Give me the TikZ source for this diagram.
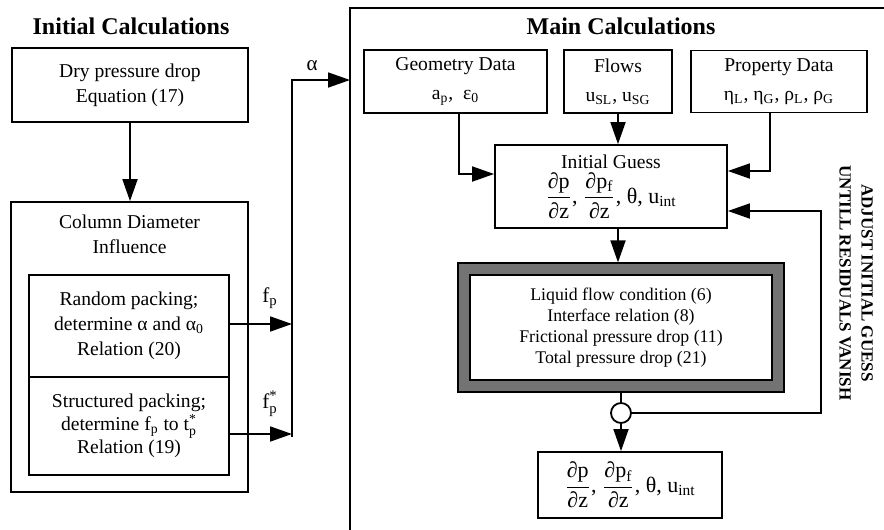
\documentclass[tikz,border=0pt]{standalone}
\usepackage{amsmath}
\usepackage{fontspec}
\setmainfont{Liberation Serif}
\usetikzlibrary{arrows.meta}

\newcommand{\pdfrac}[2]{$\dfrac{\text{#1}}{\text{#2}}$}
\newcommand{\pstar}[1]{#1$^{\text{*}}_{\text{p}}$}
\newcommand{\gradline}{{\fontsize{11}{13}\selectfont\pdfrac{∂p}{∂z}, \pdfrac{∂p\textsubscript{f}}{∂z}, θ, u\textsubscript{int}}}

\begin{document}
\begin{tikzpicture}[x=0.5pt, y=-0.5pt,
    box/.style={draw, line width=0.9pt, align=center, inner sep=0pt,
        font=\fontsize{9.8}{12.5}\selectfont},
    flow/.style={-{Triangle[length=11pt,width=7.5pt]}, line width=0.9pt},
    wire/.style={line width=0.9pt},
    title/.style={font=\fontsize{12}{14}\bfseries\selectfont},
    lbl/.style={font=\fontsize{10.5}{12}\selectfont},
]
\useasboundingbox (0,0) rectangle (884,530);

%% --- titles ---
\node[title] (ttlinit) at (131,26) {Initial Calculations};
\node[title] (ttlmain) at (621,26) {Main Calculations};

%% --- initial calculations ---
\node[box, minimum width=118pt, minimum height=37pt] (dry) at (130,85)
    {Dry pressure drop\\Equation (17)};
\node[box, minimum width=118.5pt, minimum height=145pt] (col) at (129.5,347) {};
\node[align=center, font=\fontsize{9.8}{12.5}\selectfont] (colttl) at (129.5,234)
    {Column Diameter\\Influence};
\node[box, minimum width=100pt, minimum height=51pt] (rnd) at (129,326)
    {Random packing;\\determine α and α\textsubscript{0}\\Relation (20)};
\node[box, minimum width=100pt, minimum height=49pt] (str) at (129,426)
    {Structured packing;\\[-1pt]determine f\textsubscript{p} to \pstar{t}\\[-1pt]Relation (19)};

\draw[flow] (dry.south) -- (dry.south |- col.north);

%% --- packing factors to main calculations ---
\coordinate (jrnd) at (292,324);
\coordinate (jstr) at (292,434);
\coordinate (jbot) at (292,437);
\coordinate (jtop) at (292,80);
\coordinate (jmain) at (350,80);
\draw[flow] (rnd.east |- jrnd) -- (jrnd);
\draw[flow] (str.east |- jstr) -- (jstr);
\draw[flow] (jbot) -- (jtop) -- (jmain);
\node[lbl] (fplab) at (270,298) {f\textsubscript{p}};
\node[lbl] (fslab) at (270,404) {\pstar{f}};
\node[lbl] (alab) at (312,66) {α};

%% --- main calculations frame (open to the right and below) ---
\draw[wire] (350,545) -- (350,8) -- (900,8);

%% --- input data ---
\node[box, minimum width=91.5pt, minimum height=31.5pt] (geom) at (455.5,81.5)
    {Geometry Data\\[2pt]a\textsubscript{p},\ \ ε\textsubscript{0}};
\node[box, minimum width=54pt, minimum height=31.5pt] (flows) at (618,81.5)
    {Flows\\[2pt]u\textsubscript{SL}, u\textsubscript{SG}};
\node[box, minimum width=88pt, minimum height=31pt] (prop) at (779,81.5)
    {Property Data\\[2pt]η\textsubscript{L}, η\textsubscript{G}, ρ\textsubscript{L}, ρ\textsubscript{G}};

%% --- initial guess ---
\node[box, minimum width=116pt, minimum height=41.5pt] (guess) at (611,186.5)
    {Initial Guess\\[1pt]\gradline};

\draw[flow] ([xshift=1.75pt]geom.south) |- ([yshift=6.25pt]guess.west);
\draw[flow] (flows.south) -- (flows.south |- guess.north);
\draw[flow] ([xshift=-4.5pt]prop.south) |- ([yshift=7.75pt]guess.east);

%% --- model equations (shaded frame) ---
\node[draw, line width=0.6pt, fill=black!55, minimum width=163pt,
    minimum height=64.5pt] (shade) at (621,327.5) {};
\node[box, line width=0.6pt, fill=white, minimum width=151pt, minimum height=52.5pt,
    font=\fontsize{8.9}{10.5}\selectfont] (model) at (621,327.5)
    {Liquid flow condition (6)\\Interface relation (8)\\Frictional pressure drop (11)\\Total pressure drop (21)};

\draw[flow] (flows.south |- guess.south) -- (flows.south |- shade.north);

%% --- convergence check and result ---
\node[draw, circle, line width=0.9pt, minimum size=10pt, inner sep=0pt] (check) at (621,413) {};
\node[box, minimum width=92pt, minimum height=33pt] (res) at (630,485) {\gradline};

\draw[wire] (shade.south -| check) -- (check.north);
\draw[flow] (check.south) -- (check.south |- res.north);
\coordinate (loop) at (821,413);
\draw[flow] (check.east) -- (loop) |- ([yshift=-12.25pt]guess.east);

\node[rotate=-90, align=center, font=\fontsize{8.5}{11}\bfseries\selectfont] (adjust) at (856,283)
    {ADJUST INITIAL GUESS\\UNTILL RESIDUALS VANISH};

\end{tikzpicture}
\end{document}
